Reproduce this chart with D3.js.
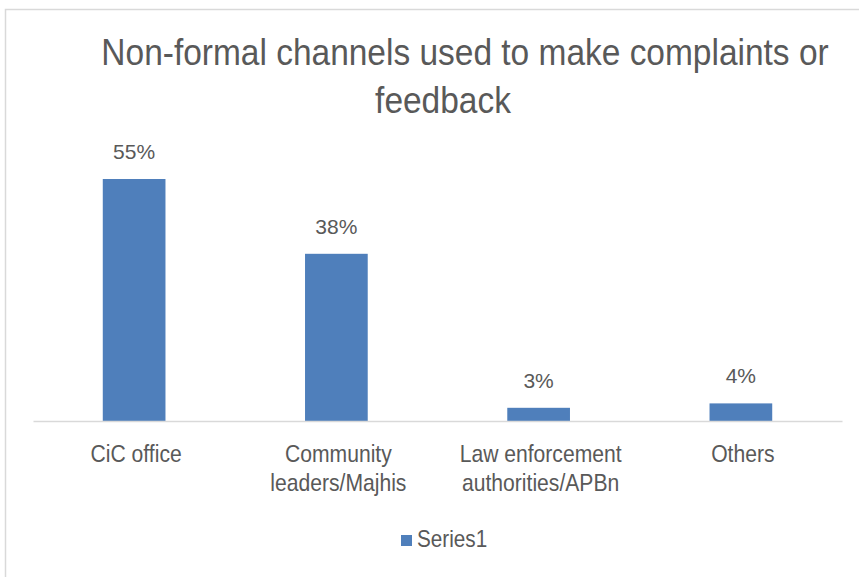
<!DOCTYPE html>
<html>
<head>
<meta charset="utf-8">
<script src="https://cdn.jsdelivr.net/npm/d3@7"></script>
<style>
  html, body { margin: 0; padding: 0; background: #fff; }
  svg { display: block; }
  text { font-family: "Liberation Sans", Arial, Helvetica, sans-serif; fill: #595959; }
</style>
</head>
<body>
<svg id="chart" width="859" height="577"></svg>
<script>
// Chart content
const titleLines = ["Non-formal channels used to make complaints or", "feedback"];
const categories = [
  ["CiC office"],
  ["Community", "leaders/Majhis"],
  ["Law enforcement", "authorities/APBn"],
  ["Others"]
];
const values = [55, 38, 3, 4];
const valueLabels = ["55%", "38%", "3%", "4%"];
const seriesName = "Series1";

const W = 859, H = 577;
const barColor = "#4f7fbb";
const svg = d3.select("#chart");

// Chart frame (top and left edges visible)
svg.append("path")
  .attr("d", `M5.5,${H} V9.5 H${W}`)
  .attr("fill", "none")
  .attr("stroke", "#d9d9d9")
  .attr("stroke-width", 1.5);

// Scales
const x = d3.scaleBand()
  .domain(d3.range(categories.length))
  .range([33, 842])
  .paddingInner(0.69)
  .paddingOuter(0.345);
const y = d3.scaleLinear().domain([0, 60]).range([421, 157]);
const cx = i => x(i) + x.bandwidth() / 2;

// Title (narrow-set face)
svg.append("g").selectAll("text")
  .data(titleLines)
  .join("text")
  .attr("transform", (d, i) => `translate(${i === 0 ? 465 : 443},${65 + i * 48}) scale(0.905,1)`)
  .attr("text-anchor", "middle")
  .style("font-size", "37px")
  .text(d => d);

// Bars
svg.append("g").selectAll("rect")
  .data(values)
  .join("rect")
  .attr("x", (d, i) => x(i))
  .attr("width", x.bandwidth())
  .attr("y", d => y(d))
  .attr("height", d => y(0) - y(d))
  .attr("fill", barColor);

// Category axis
const axis = svg.append("g")
  .attr("transform", `translate(0,${y(0)})`)
  .call(d3.axisBottom(x).tickSize(0).tickFormat(""));
axis.select(".domain").attr("stroke", "#d9d9d9").attr("stroke-width", 1.5);

// Category labels (wrapped)
const catG = svg.append("g").selectAll("text")
  .data(categories)
  .join("text")
  .attr("transform", (d, i) => `translate(${cx(i) + 2},0) scale(0.88,1)`)
  .attr("text-anchor", "middle")
  .style("font-size", "24px");
catG.each(function(lines) {
  d3.select(this).selectAll("tspan")
    .data(lines)
    .join("tspan")
    .attr("x", 0)
    .attr("y", (d, j) => 462 + j * 29)
    .text(d => d);
});

// Value labels
svg.append("g").selectAll("text")
  .data(values)
  .join("text")
  .attr("x", (d, i) => cx(i))
  .attr("y", d => y(d) - 20)
  .attr("text-anchor", "middle")
  .style("font-size", "21px")
  .text((d, i) => valueLabels[i]);

// Legend
const legend = svg.append("g").attr("transform", "translate(401,535)");
legend.append("rect").attr("width", 11).attr("height", 11).attr("fill", barColor);
legend.append("text")
  .attr("transform", "translate(16,12) scale(0.9,1)")
  .style("font-size", "23px")
  .text(seriesName);
</script>
</body>
</html>
